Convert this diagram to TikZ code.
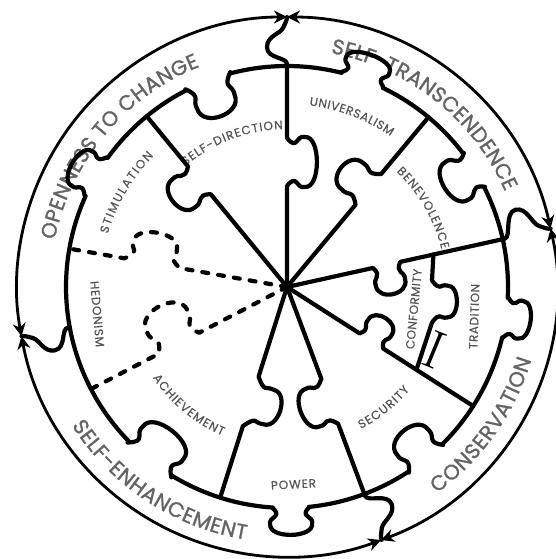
\documentclass[tikz,border=0pt]{standalone}
\usepackage{fontspec}
\newfontfamily\lblfont{Poppins}[FakeBold=1.2]
\newfontfamily\inlblfont{Poppins}[FakeBold=0.4]
\usetikzlibrary{decorations.text,arrows.meta}
\definecolor{outgray}{RGB}{100,100,100}
\definecolor{ingray}{RGB}{85,85,85}
\tikzset{
  tabp/.style n args={5}{insert path={-- ({(#1)-(#2)},{#5}) .. controls ({(#1)-0.45*(#2)},{(#5)+0.35*(#4)}) and ({(#1)-1.1*(#3)},{(#5)+0.3*(#4)}) .. ({(#1)-(#3)},{(#5)+0.6*(#4)}) .. controls ({(#1)-1.05*(#3)},{(#5)+1.13*(#4)}) and ({(#1)+1.05*(#3)},{(#5)+1.13*(#4)}) .. ({(#1)+(#3)},{(#5)+0.6*(#4)}) .. controls ({(#1)+1.1*(#3)},{(#5)+0.3*(#4)}) and ({(#1)+0.45*(#2)},{(#5)+0.35*(#4)}) .. ({(#1)+(#2)},{#5})}},
  hook/.style={insert path={-- (223,0) .. controls (230,0) and (228,#1) .. (240,#1) .. controls (251,#1) and (253,{0.35*(#1)}) .. (259,{0.2*(#1)}) .. controls (264,{0.08*(#1)}) and (267,0) .. (270,0)}},
  piece/.style={line width=4.2pt, line cap=round, line join=round},
  dsh/.style={piece, dash pattern=on 6pt off 10pt},
  ring/.style={line width=2.8pt, {Stealth[length=13pt,width=13pt]}-{Stealth[length=13pt,width=13pt]}},
  otxt/.style={decorate, decoration={text along path, text align=fit to path, text={|\lblfont\fontsize{21}{21}\selectfont\color{outgray}|#1}}},
  itxt/.style={decorate, decoration={text along path, text align=fit to path, text={|\inlblfont\fontsize{12}{12}\selectfont\color{ingray}|#1}}},
}
\begin{document}
\begin{tikzpicture}[x=1pt,y=1pt]
\useasboundingbox (-287,-272) rectangle (268,287);
\fill[white] (-287,-272) rectangle (268,287);
% outer ring labels
\path[otxt={OPENNESS TO CHANGE}] (168.6:237) arc[start angle=168.6,end angle=111.6,radius=237];
\path[otxt={SELF-TRANSCENDENCE}] (79.4:238) arc[start angle=79.4,end angle=23.6,radius=238];
\path[otxt={CONSERVATION}] (-54:255) arc[start angle=-54,end angle=-16.6,radius=255];
\path[otxt={SELF-ENHANCEMENT}] (212.8:256) arc[start angle=212.8,end angle=260.7,radius=256];
% inner labels
\path[itxt={STIMULATION}] (163.5:187) arc[start angle=163.5,end angle=135.5,radius=187];
\path[itxt={SELF-DIRECTION}] (130:158) arc[start angle=130,end angle=91.5,radius=158];
\path[itxt={UNIVERSALISM}] (83:183) arc[start angle=83,end angle=55.5,radius=183];
\path[itxt={BENEVOLENCE}] (46.5:159) arc[start angle=46.5,end angle=13.7,radius=159];
\path[itxt={ACHIEVEMENT}] (214:162) arc[start angle=214,end angle=246.5,radius=162];
\path[itxt={SECURITY}] (-62.5:160) arc[start angle=-62.5,end angle=-40,radius=160];
\path[itxt={HEDONISM}] (-196.8,5.6) -- (-191.1,-60.3);
\path[itxt={POWER}] (-15.8,-202.7) -- (29.2,-200.3);
\path[itxt={CONFORMITY}] (127.1,-62.4) -- (134.9,17.6);
\path[itxt={TRADITION}] (190.4,-62.1) -- (192.6,2.9);
\node[rotate=-22.4, inner sep=0pt] (iglyph) at (148,-63) {\fontsize{54}{54}\selectfont I};
% outer ring with arrows
\draw[ring] (12.5:270) arc[start angle=12.5,end angle=90,radius=270];
\draw[ring] (90:270) arc[start angle=90,end angle=190.5,radius=270];
\draw[ring] (190.5:270) arc[start angle=190.5,end angle=290.4,radius=270];
\draw[ring] (-69.6:270) arc[start angle=-69.6,end angle=12.5,radius=270];
% inner circle arcs
\draw[piece] (144.30:221) arc[start angle=144.30,end angle=117.22,radius=221];
\draw[piece] (104.78:221) arc[start angle=104.78,end angle=75.70,radius=221];
\draw[piece] (64.30:221) arc[start angle=64.30,end angle=37.19,radius=221];
\draw[piece] (26.81:221) arc[start angle=26.81,end angle=-2.81,radius=221];
\draw[piece] (-13.19:221) arc[start angle=-13.19,end angle=-45.30,radius=221];
\draw[piece] (-56.70:221) arc[start angle=-56.70,end angle=-84.33,radius=221];
\draw[piece] (-93.67:221) arc[start angle=-93.67,end angle=-121.24,radius=221];
\draw[piece] (-135.76:221) arc[start angle=-135.76,end angle=-204.30,radius=221];
% inner circle tabs
\draw[piece, rotate=60] (-22,221) [tabp={0}{22}{20}{27}{221}];
\draw[piece, rotate=21] (-24,221) [tabp={0}{24}{20}{-38}{221}];
\draw[piece, rotate=-20] (-22,221) [tabp={0}{22}{23}{26}{221}];
\draw[piece, rotate=-58] (-20,221) [tabp={0}{20}{22}{-35}{221}];
\draw[piece, rotate=-98] (-20,221) [tabp={0}{20}{19}{25}{221}];
\draw[piece, rotate=-141] (-22,221) [tabp={0}{22}{20}{-36}{221}];
\draw[piece, rotate=-179] (-18,221) [tabp={0}{18}{21}{27}{221}];
\draw[piece, rotate=141.5] (-28,221) [tabp={0}{28}{26}{-37}{221}];
% dividers
\draw[piece, rotate=129.4] (0,0) [tabp={138}{18}{18}{34}{0}] -- (221,0);
\draw[piece, rotate=90] (0,0) [tabp={125}{24}{25}{-30}{0}] -- (221,0) [hook=20];
\draw[piece, rotate=50.2] (0,0) [tabp={127}{20}{17}{35}{0}] -- (221,0);
\draw[piece, rotate=12.5] (0,0) [tabp={102}{14}{15}{-30}{0}] -- (221,0) [hook=26];
\draw[piece, rotate=-32.6] (0,0) [tabp={100}{14}{14}{27}{0}] -- (221,0);
\draw[piece, rotate=-69.5] (0,0) [tabp={122}{24}{20}{-31}{0}] -- (221,0) [hook=22];
\draw[piece, rotate=252.4] (0,0) [tabp={120}{26}{18}{31}{0}] -- (221,0);
\draw[dsh, rotate=207.5] (0,0) [tabp={122}{23}{23}{-42}{0}] -- (221,0);
\draw[dsh, rotate=170] (0,0) [tabp={137}{28}{22}{-31}{0}] -- (221,0);
\draw[piece, rotate=190.5] (221,0) [hook=20];
% conformity | tradition
\draw[piece, shift={(145,-14.5)}, rotate=-90] (-47,1.4) [tabp={0}{21}{16}{25}{0}] -- (66.5,-15);
% hub
\fill (0,0) circle (5);
\end{tikzpicture}
\end{document}
